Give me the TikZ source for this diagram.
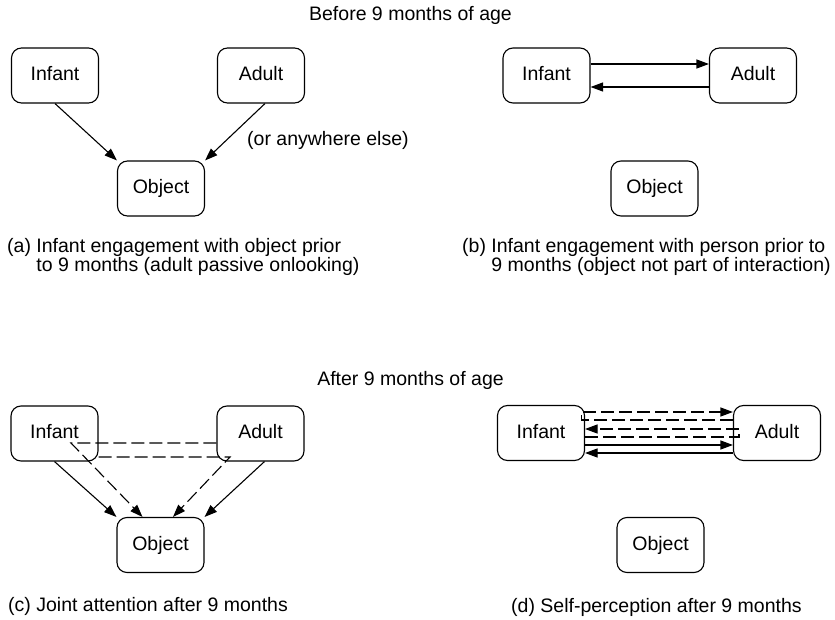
\documentclass[tikz,border=0pt]{standalone}
\usepackage{fontspec}
\setmainfont{Liberation Sans}
\usetikzlibrary{arrows.meta,calc}
\begin{document}
\begin{tikzpicture}[x=1pt,y=-1pt,
  every node/.style={font=\fontsize{19.5}{23}\selectfont},
  box/.style={draw,rounded corners=10pt,minimum width=87pt,minimum height=55pt,
    inner sep=0pt,text height=14pt,text depth=4pt,line width=1.1pt},
  arr/.style={line width=1.1pt,-{Triangle[length=12.5pt,width=9pt]}},
  dsh/.style={dash pattern=on 13pt off 5pt},
  lbl/.style={anchor=base west,inner sep=0pt},
]
\useasboundingbox (0,0) rectangle (835,620);

% titles
\node[anchor=base,inner sep=0pt] (t1) at (410.5,21) {Before 9 months of age};
\node[anchor=base,inner sep=0pt] (t2) at (410.5,385) {After 9 months of age};

% (a)
\node[box] (Ia) at (55,75.5) {Infant};
\node[box] (Aa) at (261,75.5) {Adult};
\node[box] (Oa) at (161,188.5) {Object};
\draw[arr] (Ia.south) -- (Oa.north west);
\draw[arr] ([xshift=4pt]Aa.south) -- (Oa.north east);
\node[lbl] (note) at (247,146) {(or anywhere else)};
\node[lbl] (ca1) at (7,253) {(a) Infant engagement with object prior};
\node[lbl] (ca2) at (7,272) {\hphantom{(a)} to 9 months (adult passive onlooking)};

% (b)
\node[box] (Ib) at (546.5,75.5) {Infant};
\node[box] (Ab) at (753,75.5) {Adult};
\node[box] (Ob) at (654.5,188.5) {Object};
\draw[arr] ([yshift=11.5pt]Ib.east) -- ([yshift=11.5pt]Ab.west);
\draw[arr] ([yshift=-11.5pt]Ab.west) -- ([yshift=-11.5pt]Ib.east);
\node[lbl] (cb1) at (462,253) {(b) Infant engagement with person prior to};
\node[lbl] (cb2) at (462,272) {\hphantom{(b)} 9 months (object not part of interaction)};

% (c)
\node[box] (Ic) at (54.5,433.5) {Infant};
\node[box] (Ac) at (260.5,433.5) {Adult};
\node[box] (Oc) at (160.5,545) {Object};
\draw[arr] (Ic.south) -- (Oc.north west);
\draw[arr] ([xshift=4pt]Ac.south) -- (Oc.north east);
\coordinate (c1) at ($(Ic.center)+(16.5,9.5)$);
\coordinate (c2) at ($(Ac.center)+(-30.5,23.5)$);
\draw[arr,dsh] (Ac.west |- c1) -- (c1) -- ([xshift=-18pt]Oc.north);
\draw[arr,dsh] (Ic.east |- c2) -- (c2) -- ([xshift=12.5pt]Oc.north);
\node[lbl] (cc) at (8,611) {(c) Joint attention after 9 months};

% (d)
\node[box] (Id) at (541,433) {Infant};
\node[box] (Ad) at (777,433) {Adult};
\node[box] (Od) at (660.5,545) {Object};
\draw[arr,dsh] ($(Ad.west)+(0,-13)$) -- ($(Id.east)+(-4,-13)$) -- ($(Id.east)+(-4,-21)$) -- ($(Ad.west)+(0,-21)$);
\draw[arr,dsh] ($(Id.east)+(0,4)$) -- ($(Ad.west)+(6,4)$) -- ($(Ad.west)+(6,-4)$) -- ($(Id.east)+(0,-4)$);
\draw[arr] ($(Id.east)+(0,12)$) -- ($(Ad.west)+(0,12)$);
\draw[arr] ($(Ad.west)+(0,20)$) -- ($(Id.east)+(0,20)$);
\node[lbl] (cd) at (511,612) {(d) Self-perception after 9 months};
\end{tikzpicture}
\end{document}
